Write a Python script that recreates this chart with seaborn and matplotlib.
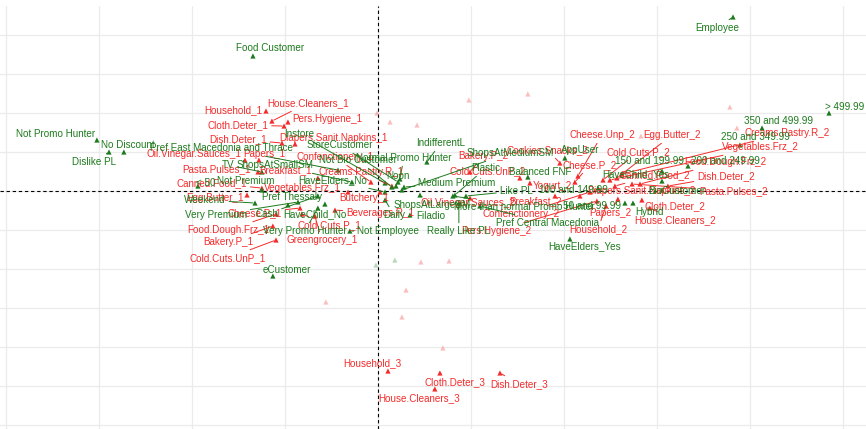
import numpy as np
import pandas as pd
import matplotlib
matplotlib.use("Agg")
import matplotlib.pyplot as plt
import seaborn as sns

# ---- MCA coordinates: active categories (red) ----
active_names = [
    "Household_1", "House.Cleaners_1", "Cloth.Deter_1", "Pers.Hygiene_1", "Dish.Deter_1",
    "Diapers.Sanit.Napkins_1", "Oil.Vinegar.Sauces_1", "Papers_1", "Pasta.Pulses_1", "Breakfast_1",
    "Creams.Pastry.R_1", "Confenctionery_1", "Canned.Food_1", "Vegetables.Frz_1", "Egg.Butter_1",
    "Butchery_1", "Cheese.P_1", "Beverages.R_1", "Food.Dough.Frz_1", "Cold.Cuts.P_1",
    "Bakery.P_1", "Greengrocery_1", "Cold.Cuts.UnP_1", "Household_3", "Cloth.Deter_3",
    "Dish.Deter_3", "House.Cleaners_3", "Cheese.Unp_2", "Egg.Butter_2", "Cold.Cuts.P_2",
    "Cheese.P_2", "Creams.Pastry.R_2", "Vegetables.Frz_2", "Food.Dough.Frz_2", "Canned.Food_2",
    "Dish.Deter_2", "Pasta.Pulses_2", "Diapers.Sanit.Napkins_2", "Cloth.Deter_2", "House.Cleaners_2",
    "Papers_2", "Household_2", "Yogurt_2", "Cookies.Snacks_2", "Bakery.P_2",
    "Cold.Cuts.UnP_2", "Oil.Vinegar.Sauces_2", "Breakfast_2", "Confenctionery_2", "Pers.Hygiene_2",
]
active_dim1 = [
    -0.602, -0.570, -0.505, -0.484, -0.516,
    -0.446, -0.715, -0.640, -0.645, -0.323,
    0.075, -0.038, -0.624, -0.161, -0.704,
    0.011, -0.419, -0.231, -0.548, -0.409,
    -0.565, -0.339, -0.548, 0.054, 0.333,
    0.656, 0.306, 1.075, 1.285, 1.210,
    1.059, 1.312, 1.247, 1.409, 1.274,
    1.559, 1.366, 1.086, 1.419, 1.462,
    1.290, 1.226, 0.817, 0.978, 0.495,
    0.763, 0.495, 0.952, 1.140, 1.177,
]
active_dim2 = [
    1.026, 0.897, 0.833, 0.885, 0.615,
    0.603, 0.397, 0.397, 0.244, 0.167,
    0.064, 0.115, 0.038, -0.013, -0.051,
    -0.013, -0.218, -0.244, -0.295, -0.295,
    -0.449, -0.321, -0.628, -2.308, -2.333,
    -2.333, -2.538, 0.192, 0.167, 0.141,
    0.115, 0.218, 0.141, 0.090, 0.064,
    0.064, 0.090, -0.064, -0.115, -0.218,
    -0.103, -0.192, 0.103, 0.359, 0.244,
    0.167, -0.090, -0.064, -0.013, -0.128,
]

# ---- supplementary categories (green) ----
supp_names = [
    "Employee", "Food Customer", "Not Promo Hunter", "No Discount", "Dislike PL",
    "Pref East Macedonia and Thrace", "TV", "ShopsAtSmallSM", "Not Premium", "< 50",
    "Weekend", "Pref Thessaly", "Very Premium", "Cash", "HaveChild_No",
    "Very Promo Hunter", "Not Employee", "eCustomer", "Instore", "StoreCustomer",
    "Not Bio Customer", "Normal Promo Hunter", "HaveElders_No", "Noon", "IndifferentL",
    "Medium Premium", "ShopsAtMediumSM", "Plastic", "Balanced FNF", "Like PL",
    "ShopsAtLargeSM", "Daily", "Filadio", "More than normal Promo Hunter", "Pref Central Macedonia",
    "Really Like PL", "HaveElders_Yes", "150 and 199.99", "200 and 249.99", "250 and 349.99",
    "350 and 499.99", "> 499.99", "100 and 149.99", "50 and 99.99", "Hybrid",
    "HaveChild_Yes", "BioCustomer", "AppUser",
]
supp_dim1 = [
    1.909, -0.672, -1.511, -1.366, -1.446,
    -0.215, -0.624, -0.140, -0.624, -0.968,
    -0.661, -0.484, -0.430, -0.323, -0.285,
    -0.323, -0.151, -0.565, 0.038, 0.108,
    0.075, 0.118, 0.038, 0.097, 0.263,
    0.140, 0.129, 0.414, 0.806, 0.473,
    0.226, 0.038, 0.172, 0.403, 0.548,
    0.435, 1.032, 1.527, 1.667, 1.946,
    2.065, 2.425, 1.183, 1.328, 1.371,
    1.527, 1.527, 1.005,
]
supp_dim2 = [
    2.231, 1.731, 0.654, 0.500, 0.500,
    0.269, 0.244, 0.115, 0.013, 0.064,
    -0.154, -0.179, -0.141, -0.064, -0.167,
    -0.218, -0.513, -1.090, 0.103, 0.115,
    0.051, 0.154, -0.013, 0.064, 0.372,
    0.051, 0.013, -0.051, 0.179, -0.064,
    -0.051, -0.115, -0.308, -0.064, -0.192,
    -0.154, -0.615, 0.256, 0.321, 0.590,
    0.808, 1.000, 0.038, -0.154, -0.154,
    0.128, 0.013, 0.423,
]

# ---- unlabelled points drawn faintly ----
faint_red_dim1 = [0.489, 0.806, -0.005, 0.065, 0.210, 1.892, 1.930, 1.414,
                  -0.280, 0.129, 0.349, 0.231, 0.382, 0.151]
faint_red_dim2 = [1.167, 1.244, 1.000, 0.885, 0.846, 1.077, 0.808, 0.705,
                  -1.423, -1.615, -2.013, -0.910, -0.897, -1.269]
faint_green_dim1 = [-0.011, 0.091]
faint_green_dim2 = [-0.949, -0.885]

# ---- label placement (pixel offsets from each point, repel-style) ----
active_offsets = [
    (-33, 1), (36, 18), (-46, 1), (39, 3), (-44, 4),
    (38, 6), (-51, 6), (5, 6), (-41, 3), (-32, 8),
    (-31, 14), (-36, 25), (-50, 5), (-46, 4), (-32, -3),
    (-16, -6), (-45, -5), (45, -3), (-48, -16), (28, -11),
    (-45, -16), (7, -24), (-48, -18), (-16, 8), (15, -9),
    (19, -11), (-16, -9), (24, 41), (55, 43), (35, 28),
    (15, 17), (165, 41), (151, 33), (85, 22), (40, 11),
    (58, 10), (101, -7), (62, 5), (33, -6), (25, -12),
    (-8, -14), (-8, -23), (22, -3), (-12, 13), (13, 16),
    (-32, 7), (-2, -5), (-20, -5), (-69, -22), (-101, -30),
]
supp_offsets = [
    (-16, -11), (17, 8), (-41, 6), (4, 7), (-15, -10),
    (-116, 22), (-34, 7), (-77, 17), (-16, 9), (8, 3),
    (-50, 3), (4, 8), (-82, -13), (-51, -18), (-10, -10),
    (-13, -23), (38, 0), (14, 6), (-86, 49), (-58, 37),
    (-34, 27), (4, 21), (-52, 12), (2, 10), (14, 19),
    (53, 4), (108, 37), (31, 27), (12, 5), (50, 5),
    (12, -10), (9, -15), (21, -1), (71, -11), (68, -17),
    (0, -28), (15, -7), (-12, 10), (37, 5), (16, 8),
    (16, 7), (16, 6), (-25, -2), (-33, -3), (17, -9),
    (-26, 7), (15, -1), (15, 8),
]

RED = "#f52a2a"
GREEN = "#1c7a1c"

points = pd.concat([
    pd.DataFrame({"dim1": active_dim1, "dim2": active_dim2, "label": active_names, "group": "active"}),
    pd.DataFrame({"dim1": supp_dim1, "dim2": supp_dim2, "label": supp_names, "group": "supp"}),
], ignore_index=True)
faint = pd.concat([
    pd.DataFrame({"dim1": faint_red_dim1, "dim2": faint_red_dim2, "group": "active"}),
    pd.DataFrame({"dim1": faint_green_dim1, "dim2": faint_green_dim2, "group": "supp"}),
], ignore_index=True)

sns.set_theme(style="white")
plt.rcParams["font.family"] = ["Liberation Sans", "DejaVu Sans"]

fig = plt.figure(figsize=(8.66, 4.29), dpi=100)
ax = fig.add_axes([0, 0, 1, 1 - 6 / 429])

palette = {"active": RED, "supp": GREEN}
sns.scatterplot(data=faint, x="dim1", y="dim2", hue="group", palette=palette,
                marker="^", s=14, linewidth=0, alpha=0.3, legend=False, ax=ax, zorder=2)
sns.scatterplot(data=points, x="dim1", y="dim2", hue="group", palette=palette,
                marker="^", s=14, linewidth=0, legend=False, ax=ax, zorder=3)

offsets = active_offsets + supp_offsets
for (i, row), (dx, dy) in zip(points.iterrows(), offsets):
    col = palette[row["group"]]
    half_w = len(row["label"]) * 2.7
    needs_segment = abs(dy) > 8 or abs(dx) > half_w + 4
    arrow = dict(arrowstyle="-", color=col, lw=0.7, shrinkA=0, shrinkB=1.5) if needs_segment else None
    ax.annotate(row["label"], xy=(row["dim1"], row["dim2"]), xytext=(dx, dy),
                textcoords="offset pixels", ha="center", va="center",
                fontsize=7.1, color=col, arrowprops=arrow, zorder=4)

ax.axhline(0, color="black", lw=0.8, ls=(0, (3, 2.5)), zorder=1)
ax.axvline(0, color="black", lw=0.8, ls=(0, (3, 2.5)), zorder=1)

ax.set_xlim(-2.032, 2.624)
ax.set_ylim(-3.051, 2.372)
ax.set_xticks(np.arange(-2.0, 2.61, 0.5))
ax.set_yticks(np.arange(-3.0, 2.41, 0.5))
ax.grid(True, color="#ebebeb", lw=0.9)
ax.tick_params(length=0, labelbottom=False, labelleft=False)
ax.set_xlabel("")
ax.set_ylabel("")
for s in ax.spines.values():
    s.set_visible(False)

fig.savefig("out.png", dpi=100, facecolor="white")
